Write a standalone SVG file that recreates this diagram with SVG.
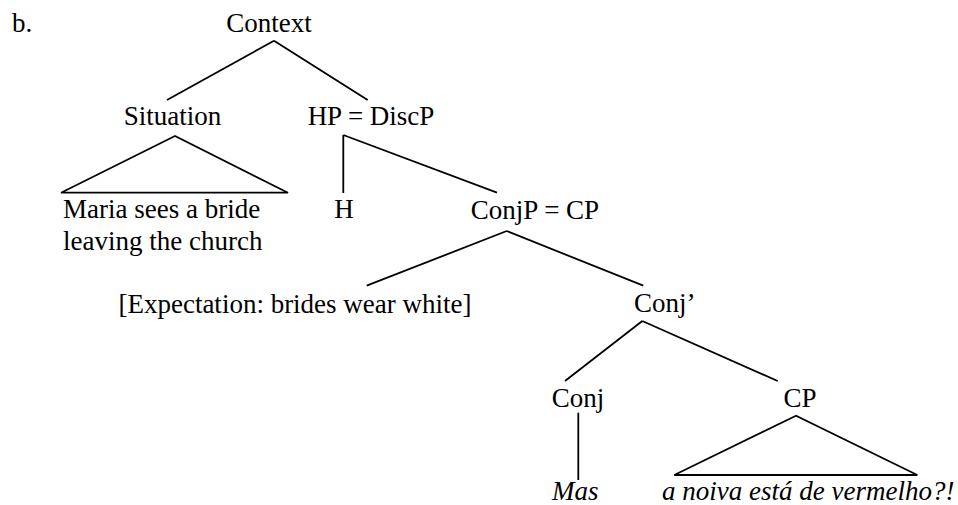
<svg xmlns="http://www.w3.org/2000/svg" width="958" height="505" viewBox="0 0 958 505">
<style>
text{font-family:"Liberation Serif","Times New Roman",serif;font-size:27px;fill:#000}
.it{font-style:italic}
.e{stroke:#000;stroke-width:1.8;fill:none;stroke-linecap:butt}
</style>
<rect width="958" height="505" fill="#fff"/>
<text x="12" y="32">b.</text>
<g id="context"><text x="269" y="32" text-anchor="middle">Context</text></g>
<g id="situation"><text x="172.5" y="125" text-anchor="middle">Situation</text></g>
<g id="hp"><text x="371" y="125" text-anchor="middle">HP = DiscP</text></g>
<g id="maria"><text x="63" y="218">Maria sees a bride</text><text x="63" y="250">leaving the church</text></g>
<g id="h"><text x="344" y="218" text-anchor="middle">H</text></g>
<g id="conjp"><text x="535" y="219" text-anchor="middle">ConjP = CP</text></g>
<g id="expectation"><text x="295" y="312.5" text-anchor="middle">[Expectation: brides wear white]</text></g>
<g id="conjbar"><text x="634" y="312">Conj’</text></g>
<g id="conj"><text x="578" y="406.5" text-anchor="middle">Conj</text></g>
<g id="cp"><text x="800" y="406.5" text-anchor="middle">CP</text></g>
<g id="mas"><text class="it" x="552" y="500">Mas</text></g>
<g id="noiva"><text class="it" x="662" y="500">a noiva está de vermelho?!</text></g>
<g id="connectors" class="e">
<path d="M274,40.7 L167,100 M274,40.7 L367.7,100"/>
<path d="M175,136 L61,192.7 L288,192.7 Z"/>
<path d="M343.3,135 L343.3,193 M343.3,135 L497,192.7"/>
<path d="M506.7,231 L366.7,285.7 M506.7,231 L643.3,285.7"/>
<path d="M642.3,321 L565,381 M642.3,321 L777.7,381"/>
<path d="M578.3,412.7 L578.3,480"/>
<path d="M796,415.7 L674.3,475 L917.3,475 Z"/>
</g>
</svg>
